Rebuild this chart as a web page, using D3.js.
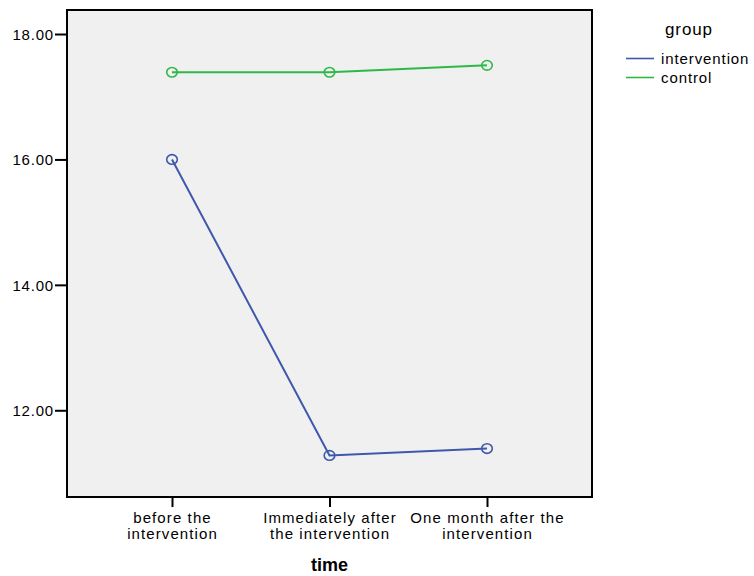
<!DOCTYPE html>
<html>
<head>
<meta charset="utf-8">
<script src="https://cdn.jsdelivr.net/npm/d3@7"></script>
<style>
  html, body { margin: 0; padding: 0; background: #ffffff; }
  svg { display: block; }
  text { font-family: "Liberation Sans", Arial, sans-serif; fill: #000; }
</style>
</head>
<body>
<svg id="chart" width="754" height="576"></svg>
<script>
const categories = ["before the intervention", "Immediately after the intervention", "One month after the intervention"];
const categoryLabelLines = [["before the", "intervention"], ["Immediately after", "the intervention"], ["One month after the", "intervention"]];
const seriesNames = ["intervention", "control"];
const interventionValues = [16.00, 11.28, 11.39];
const controlValues = [17.39, 17.39, 17.50];
const yTickValues = [12, 14, 16, 18];
const seriesColors = ["#3E58AC", "#2EB848"];
const xTitle = "time";
const legendTitle = "group";

const svg = d3.select("#chart");
const plot = { left: 67, top: 10, right: 592, bottom: 497 };

const x = d3.scalePoint().domain(categories).range([plot.left, plot.right]).padding(2/3);
const y = d3.scaleLinear().domain([10.617, 18.383]).range([plot.bottom, plot.top]);

// plot background
svg.append("rect")
  .attr("x", plot.left).attr("y", plot.top)
  .attr("width", plot.right - plot.left).attr("height", plot.bottom - plot.top)
  .attr("fill", "#F0F0F0");

// Y axis
const yAxis = d3.axisLeft(y).tickValues(yTickValues).tickFormat(d3.format(".2f")).tickSize(12).tickPadding(1);
const gy = svg.append("g").attr("transform", `translate(${plot.left},0)`).call(yAxis);
gy.select(".domain").remove();
gy.selectAll(".tick line").attr("stroke", "#000").attr("stroke-width", 2);
gy.selectAll(".tick text").attr("font-size", 15).attr("letter-spacing", "0.8px").attr("dy", "0.36em");

// X axis
const xAxis = d3.axisBottom(x).tickSize(10).tickFormat("");
const gx = svg.append("g").attr("transform", `translate(0,${plot.bottom})`).call(xAxis);
gx.select(".domain").remove();
gx.selectAll(".tick line").attr("stroke", "#000").attr("stroke-width", 2);
gx.selectAll(".tick").each(function(d, i) {
  const t = d3.select(this).append("text")
    .attr("text-anchor", "middle")
    .attr("font-size", 15)
    .attr("letter-spacing", "1.1px")
    .attr("fill", "#000");
  categoryLabelLines[i].forEach((line, j) => {
    t.append("tspan").attr("x", 0).attr("y", 26 + j * 15.5).text(line);
  });
});

// frame
svg.append("rect")
  .attr("x", plot.left).attr("y", plot.top)
  .attr("width", plot.right - plot.left).attr("height", plot.bottom - plot.top)
  .attr("fill", "none").attr("stroke", "#000").attr("stroke-width", 2);

// series
const series = [interventionValues, controlValues];
const line = d3.line().x((d, i) => x(categories[i])).y(d => y(d));
series.forEach((vals, s) => {
  svg.append("path").datum(vals)
    .attr("d", line)
    .attr("fill", "none")
    .attr("stroke", seriesColors[s])
    .attr("stroke-width", 2);
  svg.append("g").selectAll("ellipse").data(vals).join("ellipse")
    .attr("cx", (d, i) => x(categories[i]))
    .attr("cy", d => y(d))
    .attr("rx", 5.3).attr("ry", 4.8)
    .attr("fill", "none")
    .attr("stroke", seriesColors[s])
    .attr("stroke-width", 1.6);
});

// x title
svg.append("text")
  .attr("x", (plot.left + plot.right) / 2).attr("y", 571)
  .attr("text-anchor", "middle")
  .attr("font-size", 18).attr("font-weight", "bold")
  .text(xTitle);

// legend
svg.append("text").attr("x", 665).attr("y", 35)
  .attr("font-size", 17).attr("letter-spacing", "0.9px").text(legendTitle);
const leg = svg.append("g").selectAll("g").data(seriesNames).join("g")
  .attr("transform", (d, i) => `translate(0,${58.5 + i * 19})`);
leg.append("line").attr("x1", 626).attr("x2", 654).attr("y1", 0).attr("y2", 0)
  .attr("stroke", (d, i) => seriesColors[i]).attr("stroke-width", 1.6);
leg.append("text").attr("x", 661).attr("y", 5)
  .attr("font-size", 15).attr("letter-spacing", "0.9px").text(d => d);
</script>
</body>
</html>
